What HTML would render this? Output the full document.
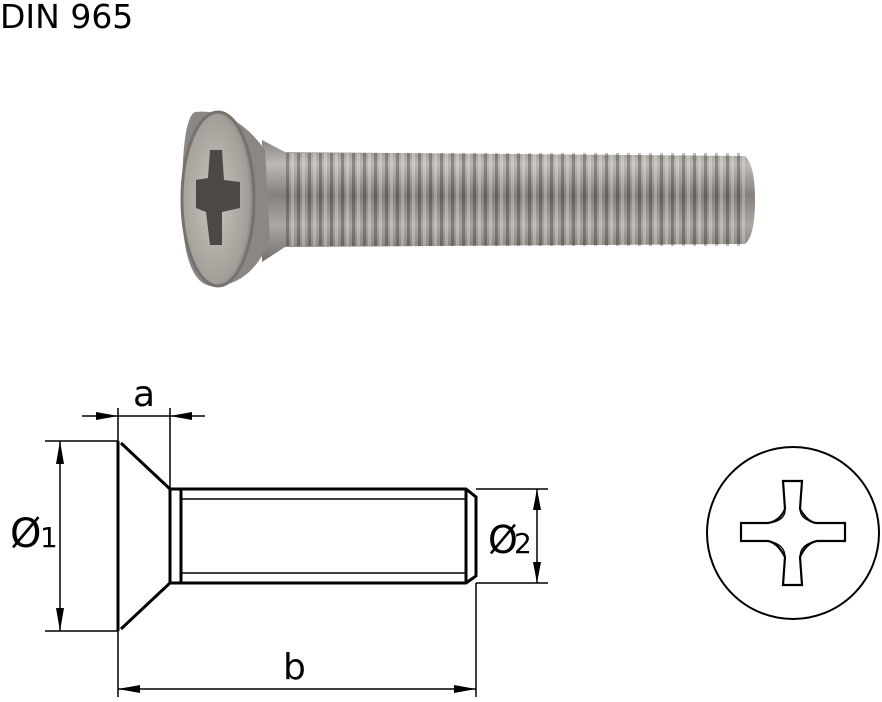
<!DOCTYPE html>
<html><head><meta charset="utf-8"><style>
html,body{margin:0;padding:0;background:#fff}
svg{display:block}
</style></head><body>
<svg width="882" height="702" viewBox="0 0 882 702" xmlns="http://www.w3.org/2000/svg">
<defs>
<linearGradient id="sh" x1="0" y1="0" x2="0" y2="1">
<stop offset="0" stop-color="#8a8580"/><stop offset="0.2" stop-color="#bdb9b3"/><stop offset="0.45" stop-color="#85807b"/><stop offset="0.7" stop-color="#aca7a1"/><stop offset="1" stop-color="#736e69"/>
</linearGradient>
<pattern id="th" x="275" y="0" width="11" height="10" patternUnits="userSpaceOnUse">
<rect x="0" y="0" width="3" height="10" fill="#000" opacity="0.25"/><rect x="5" y="0" width="3" height="10" fill="#fff" opacity="0.25"/>
</pattern>
<radialGradient id="hd" cx="0.45" cy="0.5" r="0.6">
<stop offset="0" stop-color="#c9c5bf"/><stop offset="0.8" stop-color="#a39e98"/><stop offset="1" stop-color="#6e6964"/>
</radialGradient>
</defs>
<text x="0" y="28" font-family="DejaVu Sans, sans-serif" font-size="33" fill="#000">DIN 965</text>
<!-- photo -->
<path d="M262 140 L285 152 L745 156 Q755 165 755 200 Q755 236 745 244 L285 247 L262 262 Z" fill="url(#sh)"/>
<rect x="285" y="153" width="462" height="93" fill="url(#th)"/>
<path d="M195 112 Q235 108 265 150 L270 240 Q250 288 210 286 Q182 280 182 200 Q182 118 195 112 Z" fill="#8c8782"/>
<ellipse cx="218" cy="199" rx="36" ry="87" fill="url(#hd)" stroke="#77726d" stroke-width="3"/>
<path d="M210 150 L222 150 L224 180 L240 182 L240 208 L222 212 L222 245 L210 245 L206 212 L196 208 L196 180 L208 178 Z" fill="#4d4844"/>
<!-- drawing -->
<g stroke="#000" fill="none">
<g stroke-width="3">
<path d="M118 441 L118 631"/>
<path d="M121 443 L170 489 L170 583 L121 629"/>
<path d="M170 489 L466 489 L476 497 L476 576 L466 583 L170 583"/>
<path d="M181 489 L181 583"/>
<path d="M466 489 L466 583"/>
</g>
<g stroke-width="1.5">
<path d="M181 499 L466 499 M181 573 L466 573"/>
<path d="M118 408 L118 441 M170 408 L170 489 M82 416 L205 416"/>
<path d="M45 441 L118 441 M45 631 L118 631 M60 441 L60 631"/>
<path d="M476 489 L548 489 M476 583 L548 583 M537 489 L537 583"/>
<path d="M118 631 L118 697 M476 583 L476 697 M118 689 L476 689"/>
</g>
</g>
<g fill="#000">
<path d="M118 416 L96 412 L96 420 Z"/><path d="M170 416 L192 412 L192 420 Z"/>
<path d="M60 441 L56 464 L64 464 Z"/><path d="M60 631 L56 608 L64 608 Z"/>
<path d="M537 489 L533 510 L541 510 Z"/><path d="M537 583 L533 562 L541 562 Z"/>
<path d="M118 689 L140 685 L140 693 Z"/><path d="M476 689 L454 685 L454 693 Z"/>
</g>
<g font-family="DejaVu Sans, sans-serif" fill="#000">
<text x="133" y="406" font-size="36">a</text>
<text x="283" y="679" font-size="36">b</text>
<text x="10" y="547" font-size="40">Ø</text><text x="40" y="547" font-size="28">1</text>
<text x="488" y="553" font-size="38">Ø</text><text x="514" y="553" font-size="28">2</text>
</g>
<circle cx="793" cy="533" r="86" fill="none" stroke="#000" stroke-width="2"/>
<g fill="none" stroke="#000" stroke-width="2.2">
<path d="M783 481 L802 481 L800 509 Q808 523 817 523 L845 523 L845 541 L817 541 Q806 543 800 557 L802 585 L783 585 L785 557 Q778 543 768 541 L741 541 L741 523 L768 523 Q780 521 785 509 Z"/>
<path d="M785 509 Q786 520 770 523 M800 509 Q800 520 817 523 M768 541 Q785 544 785 557 M817 541 Q800 544 800 557" stroke-width="1.2"/>
</g>
</svg>
</body></html>
